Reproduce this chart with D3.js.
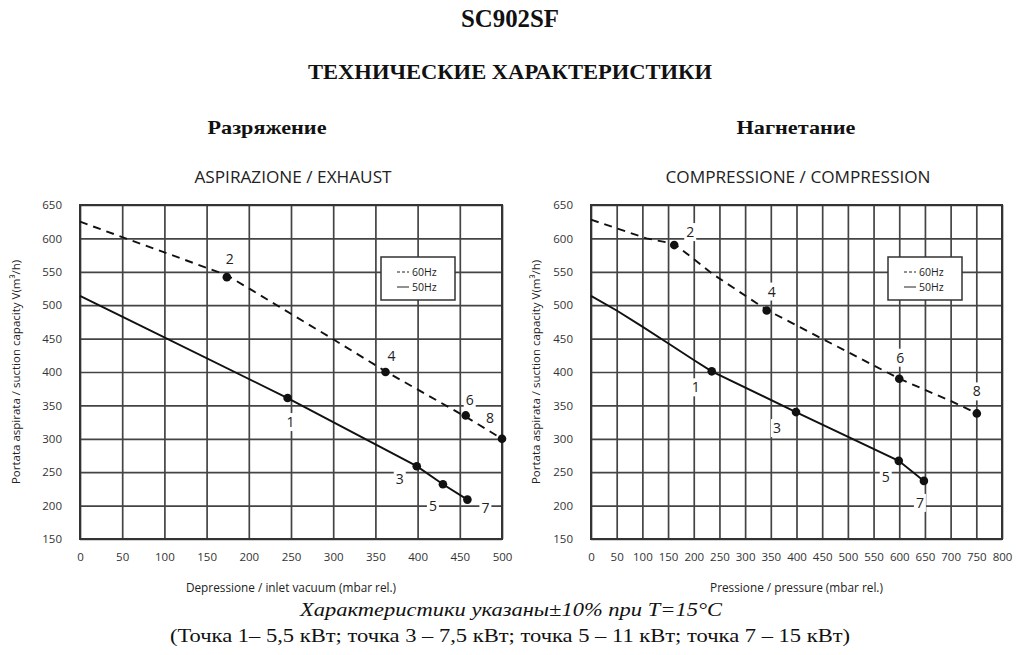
<!DOCTYPE html>
<html>
<head>
<meta charset="utf-8">
<script src="https://cdn.jsdelivr.net/npm/d3@7"></script>
<style>
  body { margin: 0; background: #fff; }
  svg { display: block; }
  .serif { font-family: "Liberation Serif", "Times New Roman", serif; fill: #111; }
  .sans { font-family: "Open Sans", "Noto Sans", sans-serif; fill: #222; }
  .grid line { stroke: #444; stroke-width: 1.7; }
  .grid text { font-family: "Open Sans", "Noto Sans", sans-serif; font-size: 11.5px; fill: #333; }
</style>
</head>
<body>
<div id="chart"></div>
<script>
// ---- data ----
var yTicks = [150, 200, 250, 300, 350, 400, 450, 500, 550, 600, 650];
var xTicksVac = [0, 50, 100, 150, 200, 250, 300, 350, 400, 450, 500];
var xTicksPress = [0, 50, 100, 150, 200, 250, 300, 350, 400, 450, 500, 550, 600, 650, 700, 750, 800];

// aspirazione / exhaust (vacuum)
var vac60Line = [[0, 625], [50, 602], [174, 545], [300, 449], [362, 401], [457, 333], [500, 300]];
var vac50Line = [[0, 514], [50, 483], [246, 361], [399, 259], [430, 232], [459, 209]];
var vac60Pts = [[2, 174, 542], [4, 362, 400], [6, 457, 335], [8, 500, 300]];
var vac50Pts = [[1, 246, 361], [3, 399, 259], [5, 430, 232], [7, 459, 209]];

// compressione / compression (pressure)
var press60Line = [[0, 628], [108, 600], [162, 592], [238, 546], [342, 493], [452, 449], [600, 390], [705, 355], [751, 338]];
var press50Line = [[0, 514], [50, 492], [100, 468], [150, 443], [200, 418], [235, 401], [399, 340], [599, 267], [648, 237]];
var press60Pts = [[2, 162, 590], [4, 342, 492], [6, 600, 390], [8, 751, 338]];
var press50Pts = [[1, 235, 401], [3, 399, 340], [5, 599, 267], [7, 648, 237]];

var legendNames = ["60Hz", "50Hz"];

// ---- layout ----
var W = 1024, H = 655;
var svg = d3.select("#chart").append("svg").attr("width", W).attr("height", H);

// label offsets (px) from each numbered point
var offVac = {2: [3, -18], 4: [6, -16], 6: [4, -15], 8: [-12, -21], 1: [3, 24], 3: [-17, 13], 5: [-10, 22], 7: [18, 8]};
var offPress = {2: [16, -13], 4: [5, -19], 6: [1, -21], 8: [0, -22], 1: [-16, 16], 3: [-19, 16], 5: [-13, 16], 7: [-4, 22]};

var panels = [
  {left: 80, right: 502, xMax: 500, xTicks: xTicksVac, l60: vac60Line, l50: vac50Line, p60: vac60Pts, p50: vac50Pts,
   off: offVac, legX: 381, xTitle: "Depressione / inlet vacuum (mbar rel.)", yTitleX: 20,
   head: "Разряжение", headX: 267, sub: "ASPIRAZIONE / EXHAUST", subX: 293},
  {left: 591, right: 1002, xMax: 800, xTicks: xTicksPress, l60: press60Line, l50: press50Line, p60: press60Pts, p50: press50Pts,
   off: offPress, legX: 888, xTitle: "Pressione / pressure (mbar rel.)", yTitleX: 540,
   head: "Нагнетание", headX: 796, sub: "COMPRESSIONE / COMPRESSION", subX: 798}
];
var plotTop = 205, plotBottom = 539;

// titles
svg.append("text").attr("class", "serif").attr("x", 510).attr("y", 27)
   .attr("text-anchor", "middle").attr("font-size", 26).attr("font-weight", "bold")
   .attr("textLength", 98).attr("lengthAdjust", "spacingAndGlyphs").text("SC902SF");
svg.append("text").attr("class", "serif").attr("x", 510).attr("y", 79)
   .attr("text-anchor", "middle").attr("font-size", 20).attr("font-weight", "bold")
   .attr("textLength", 404).attr("lengthAdjust", "spacingAndGlyphs").text("ТЕХНИЧЕСКИЕ ХАРАКТЕРИСТИКИ");
svg.append("text").attr("class", "serif").attr("x", 511).attr("y", 616)
   .attr("text-anchor", "middle").attr("font-size", 19).attr("font-style", "italic")
   .attr("textLength", 422).attr("lengthAdjust", "spacingAndGlyphs")
   .text("Характеристики указаны±10% при Т=15°С");
svg.append("text").attr("class", "serif").attr("x", 510).attr("y", 642)
   .attr("text-anchor", "middle").attr("font-size", 19)
   .attr("textLength", 680).attr("lengthAdjust", "spacingAndGlyphs")
   .text("(Точка 1– 5,5 кВт; точка 3 – 7,5 кВт; точка 5 – 11 кВт; точка 7 – 15 кВт)");

panels.forEach(function(p) {
  var x = d3.scaleLinear().domain([0, p.xMax]).range([p.left, p.right]);
  var y = d3.scaleLinear().domain([150, 650]).range([plotBottom, plotTop]);
  var w = p.right - p.left, h = plotBottom - plotTop;

  svg.append("text").attr("class", "serif").attr("x", p.headX).attr("y", 134)
     .attr("text-anchor", "middle").attr("font-size", 19).attr("font-weight", "bold")
     .attr("textLength", 119).attr("lengthAdjust", "spacingAndGlyphs").text(p.head);
  svg.append("text").attr("class", "sans").attr("x", p.subX).attr("y", 183)
     .attr("text-anchor", "middle").attr("font-size", 17.2).text(p.sub);

  // grid + ticks
  svg.append("g").attr("class", "grid").attr("transform", "translate(0," + plotBottom + ")")
     .call(d3.axisBottom(x).tickValues(p.xTicks).tickSize(-h).tickPadding(14).tickFormat(d3.format("d")))
     .call(function(g) { g.select(".domain").remove(); });
  svg.append("g").attr("class", "grid").attr("transform", "translate(" + p.left + ",0)")
     .call(d3.axisLeft(y).tickValues(yTicks).tickSize(-w).tickPadding(18).tickFormat(d3.format("d")))
     .call(function(g) { g.select(".domain").remove(); });
  svg.append("rect").attr("x", p.left).attr("y", plotTop).attr("width", w).attr("height", h)
     .attr("fill", "none").attr("stroke", "#333").attr("stroke-width", 2);

  // axis titles
  svg.append("text").attr("class", "sans").attr("x", (p.left + p.right) / 2).attr("y", 592)
     .attr("text-anchor", "middle").attr("font-size", 11.8).text(p.xTitle);
  svg.append("text").attr("class", "sans").attr("font-size", 11.5).attr("text-anchor", "middle")
     .attr("transform", "translate(" + p.yTitleX + "," + (plotTop + h / 2) + ") rotate(-90)")
     .text("Portata aspirata / suction capacity V(m³/h)");

  var line = d3.line().x(function(d) { return x(d[0]); }).y(function(d) { return y(d[1]); });
  svg.append("path").datum(p.l60).attr("d", line).attr("fill", "none")
     .attr("stroke", "#111").attr("stroke-width", 1.9).attr("stroke-dasharray", "8,6");
  svg.append("path").datum(p.l50).attr("d", line).attr("fill", "none")
     .attr("stroke", "#111").attr("stroke-width", 1.9);

  var pts = p.p60.concat(p.p50);
  svg.selectAll(null).data(pts).enter().append("circle")
     .attr("cx", function(d) { return x(d[1]); })
     .attr("cy", function(d) { return y(d[2]); })
     .attr("r", 4.3).attr("fill", "#111");

  var lab = svg.selectAll(null).data(pts).enter().append("g")
     .attr("transform", function(d) {
       var o = p.off[d[0]];
       return "translate(" + (x(d[1]) + o[0]) + "," + (y(d[2]) + o[1]) + ")";
     });
  lab.append("rect").attr("x", -6).attr("y", -9).attr("width", 12).attr("height", 18).attr("fill", "#fff");
  lab.append("text").attr("class", "sans").attr("text-anchor", "middle").attr("dy", "0.36em")
     .attr("font-size", 14).attr("fill", "#222").text(function(d) { return d[0]; });

  // legend
  var lg = svg.append("g").attr("transform", "translate(" + p.legX + ",257)");
  lg.append("rect").attr("width", 74).attr("height", 43).attr("fill", "#fff")
    .attr("stroke", "#333").attr("stroke-width", 1.5);
  legendNames.forEach(function(n, i) {
    var ly = 15 + i * 15;
    lg.append("line").attr("x1", 16).attr("x2", 28).attr("y1", ly).attr("y2", ly)
      .attr("stroke", "#222").attr("stroke-width", 1)
      .attr("stroke-dasharray", i === 0 ? "3,2" : null);
    lg.append("text").attr("class", "sans").attr("x", 31).attr("y", ly).attr("dy", "0.35em")
      .attr("font-size", 10.5).text(n);
  });
});
</script>
</body>
</html>
